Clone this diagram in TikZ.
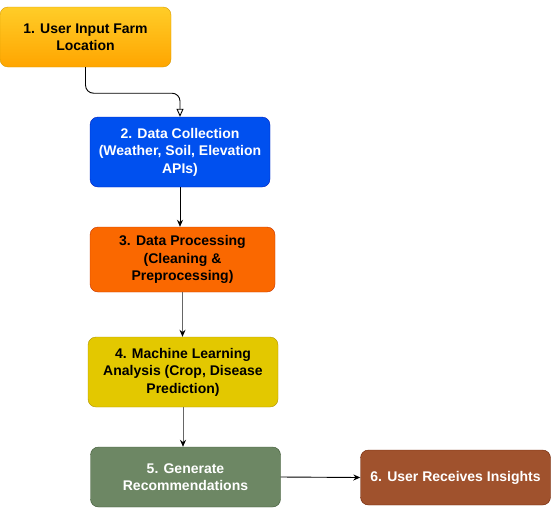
\documentclass[tikz,border=0pt]{standalone}
\usepackage{fontspec}
\setmainfont{Liberation Sans}
\usetikzlibrary{arrows.meta}

\definecolor{boxblue}{HTML}{0050EF}
\definecolor{boxblueline}{HTML}{001DBC}
\definecolor{boxorange}{HTML}{FA6800}
\definecolor{boxorangeline}{HTML}{C73500}
\definecolor{boxyellow}{HTML}{E3C800}
\definecolor{boxyellowline}{HTML}{B09500}
\definecolor{boxgreen}{HTML}{6D8764}
\definecolor{boxgreenline}{HTML}{3A5431}
\definecolor{boxbrown}{HTML}{A0522D}
\definecolor{boxbrownline}{HTML}{6D1F00}
\definecolor{gradtop}{HTML}{FFCD28}
\definecolor{gradbottom}{HTML}{FFA500}
\definecolor{gradline}{HTML}{D79B00}

\begin{document}
\begin{tikzpicture}[
    x=1pt, y=-1pt,
    every node/.style={rectangle, rounded corners=8pt, align=center, inner sep=2pt,
        font=\fontsize{14}{17.5}\selectfont\bfseries},
    flow/.style={-{Stealth[length=7pt,width=6pt,black]}, line width=0.9pt},
    grayflow/.style={flow, draw=black!60}
]

\useasboundingbox (0,0) rectangle (551,509);

\node (input) [draw=gradline, top color=gradtop, bottom color=gradbottom,
    minimum width=171pt, minimum height=60pt] at (85.5,37)
    {1. User Input Farm\\Location};
\node (collect) [draw=boxblueline, fill=boxblue, text=white,
    minimum width=180pt, minimum height=70pt] at (180,152)
    {2. Data Collection\\(Weather, Soil, Elevation\\APIs)};
\node (process) [draw=boxorangeline, fill=boxorange,
    minimum width=185pt, minimum height=65pt] at (182.5,259.5)
    {3. Data Processing\\(Cleaning \&\\Preprocessing)};
\node (analysis) [draw=boxyellowline, fill=boxyellow,
    minimum width=190pt, minimum height=70pt] at (183,372)
    {4. Machine Learning\\Analysis (Crop, Disease\\Prediction)};
\node (recommend) [draw=boxgreenline, fill=boxgreen, text=white,
    minimum width=190pt, minimum height=60pt] at (185.5,477)
    {5. Generate\\Recommendations};
\node (insights) [draw=boxbrownline, fill=boxbrown, text=white,
    minimum width=190pt, minimum height=55pt] at (455.5,477.5)
    {6. User Receives Insights};

\draw [-{Triangle[open,length=8pt,width=7pt]}, line width=0.9pt, rounded corners=8pt]
    (input.south) -- ++(0,26) -| (collect.north);
\draw [flow] (collect.south) -- (collect.south |- process.north);
\draw [grayflow] (process.south) -- (process.south |- analysis.north);
\draw [grayflow] (analysis.south) -- (analysis.south |- recommend.north);
\draw [flow] (recommend.east) -- (insights.west);

\end{tikzpicture}
\end{document}
